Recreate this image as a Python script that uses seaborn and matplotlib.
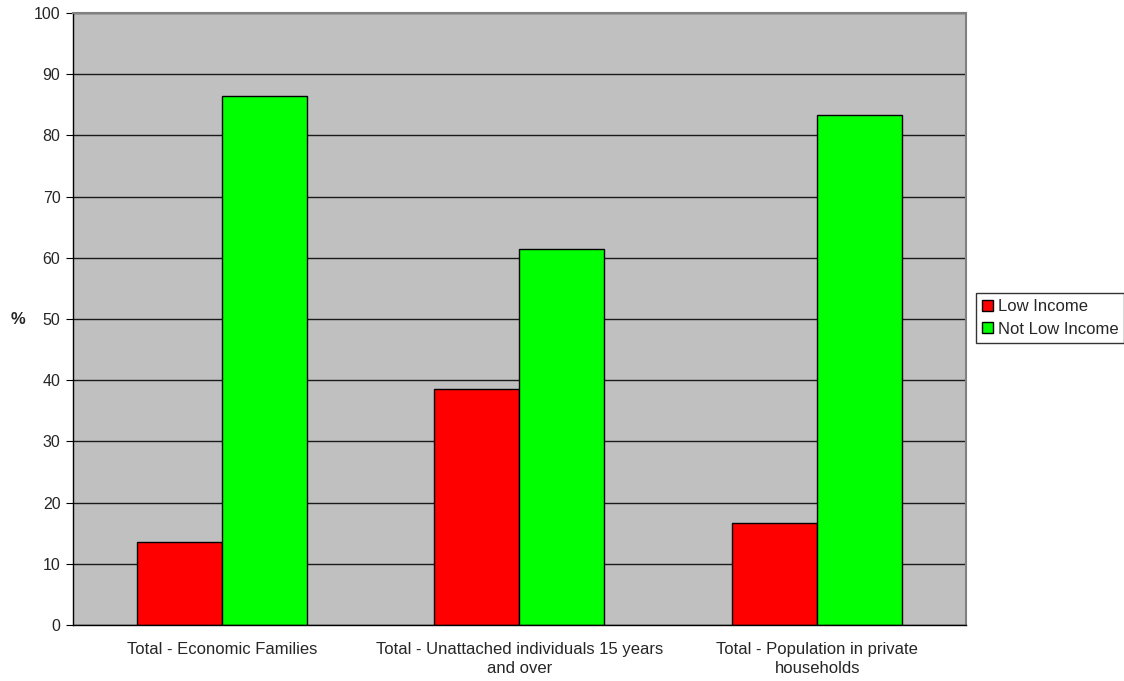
import matplotlib
matplotlib.use("Agg")
import matplotlib.pyplot as plt
import seaborn as sns
import pandas as pd

categories = [
    "Total - Economic Families",
    "Total - Unattached individuals 15 years\nand over",
    "Total - Population in private\nhouseholds",
]
low_income = [13.5, 38.5, 16.6]
not_low_income = [86.5, 61.5, 83.4]
series_names = ["Low Income", "Not Low Income"]
y_ticks = list(range(0, 101, 10))

df = pd.DataFrame({
    "category": categories * 2,
    "series": [series_names[0]] * 3 + [series_names[1]] * 3,
    "value": low_income + not_low_income,
})

sns.set_style("white")
plt.rcParams["font.family"] = ["Liberation Sans", "DejaVu Sans"]

fig = plt.figure(figsize=(11.24, 6.81), dpi=100)
ax = fig.add_axes([0.0649, 0.0822, 0.7945, 0.8987])
ax.set_facecolor("#C0C0C0")

sns.barplot(
    data=df, x="category", y="value", hue="series",
    palette=["#FF0000", "#00FF00"], edgecolor="black", linewidth=1,
    width=0.571, gap=0, ax=ax, legend=True, saturation=1,
)

ax.set_ylim(0, 100)
ax.set_xlim(-0.5, 2.5)
ax.set_yticks(y_ticks)
ax.set_yticklabels([str(t) for t in y_ticks], fontsize=11.5)
ax.yaxis.grid(True, color="#1a1a1a", linewidth=1)
ax.set_axisbelow(True)

# Category boundary ticks on x axis, labels centred on groups
ax.set_xticks([0, 1, 2])
ax.set_xticklabels(categories, fontsize=12, linespacing=1.4)
ax.tick_params(axis="x", length=0, pad=12)
ax.set_xticks([-0.5, 0.5, 1.5, 2.5], minor=True)
ax.tick_params(axis="x", which="minor", length=5, color="black", direction="out")
ax.tick_params(axis="y", length=5, color="black", direction="out", left=True, pad=4)

ax.set_xlabel("")
ax.set_ylabel("")
fig.text(18 / 1124, 1 - 320 / 681, "%", fontsize=12, fontweight="bold",
         ha="center", va="center")

for side in ["left", "bottom"]:
    ax.spines[side].set_color("black")
    ax.spines[side].set_linewidth(1)
for side in ["top", "right"]:
    ax.spines[side].set_color("#808080")
    ax.spines[side].set_linewidth(1.5)

handles, labels = ax.get_legend_handles_labels()
ax.legend_.remove()
fig.legend(
    handles, labels, loc="center left", bbox_to_anchor=(976 / 1124, 1 - 318 / 681),
    frameon=True, fancybox=False, edgecolor="black", fontsize=12,
    handlelength=0.65, handleheight=0.65, handletextpad=0.3,
    borderpad=0.35, labelspacing=0.45, borderaxespad=0,
)
fig.legends[0].get_frame().set_linewidth(1)

fig.savefig("out.png", dpi=100, facecolor="white")
